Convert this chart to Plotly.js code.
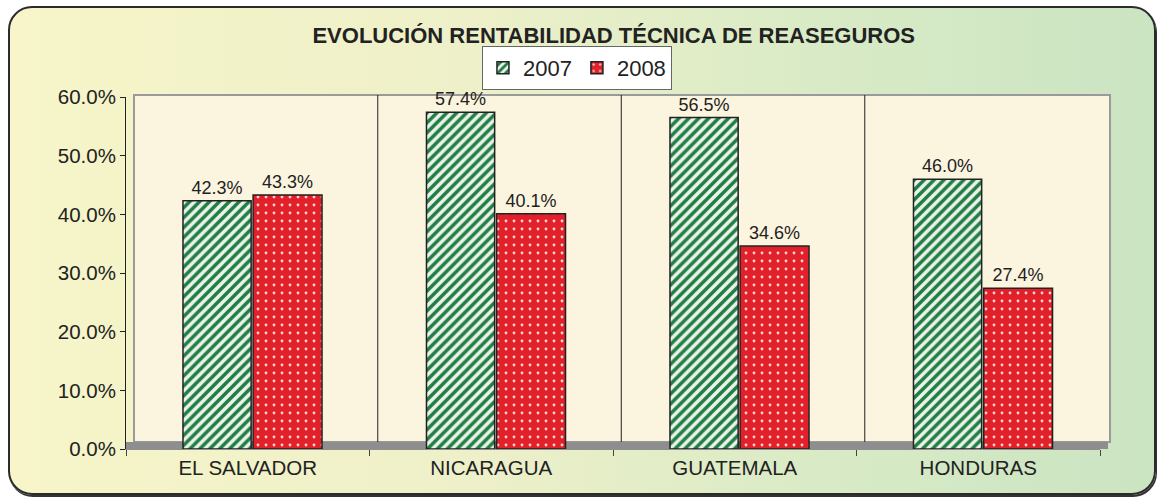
<!DOCTYPE html>
<html>
<head>
<meta charset="utf-8">
<script src="https://cdn.plot.ly/plotly-3.0.1.min.js"></script>
<style>
  html, body { margin: 0; padding: 0; width: 1158px; height: 498px; overflow: hidden; background: #ffffff; }
  #frame {
    position: absolute; left: 8px; top: 6px; width: 1144px; height: 485px;
    border: 2px solid #2b2b2b; border-radius: 24px;
    box-shadow: 1px 2px 0 #333;
    background: linear-gradient(to right, #f7f5c9 0%, #eef0c9 40%, #d9ebc6 70%, #cbe4c2 100%);
  }
  #chart { position: absolute; left: 0; top: 0; width: 1158px; height: 498px; }
</style>
</head>
<body>
<div id="frame"></div>
<div id="chart"></div>
<script>
const categories = ["EL SALVADOR", "NICARAGUA", "GUATEMALA", "HONDURAS"];
const seriesNames = ["2007", "2008"];
const values2007 = [42.3, 57.4, 56.5, 46.0];
const values2008 = [43.3, 40.1, 34.6, 27.4];
const yTicks = [0, 10, 20, 30, 40, 50, 60];

const fontFamily = "Liberation Sans, Arial, sans-serif";

const fmt = v => v.toFixed(1) + "%";

const trace2007 = {
  type: "bar", name: seriesNames[0], x: categories, y: values2007,
  offset: -0.266, width: 0.28,
  text: values2007.map(fmt), textposition: "outside", cliponaxis: false,
  textfont: { family: fontFamily, size: 18, color: "#222" },
  marker: {
    color: "#eef2ee",
    line: { color: "#222", width: 1.5 },
    pattern: { shape: "/", fgcolor: "#1f7f40", bgcolor: "#eef2ee", size: 7, solidity: 0.5, fillmode: "replace" }
  },
  hoverinfo: "skip"
};
const trace2008 = {
  type: "bar", name: seriesNames[1], x: categories, y: values2008,
  offset: 0.022, width: 0.283,
  text: values2008.map(fmt), textposition: "outside", cliponaxis: false,
  textfont: { family: fontFamily, size: 18, color: "#222" },
  marker: {
    color: "#e2202a",
    line: { color: "#222", width: 1.5 },
    pattern: { shape: ".", fgcolor: "#f7d0d0", bgcolor: "#e2202a", size: 8, solidity: 0.1, fillmode: "replace" }
  },
  hoverinfo: "skip"
};

const plotW = 974, plotH = 352;
const wallDx = 8 / plotW, wallDy = 2 / plotH;
const shapes = [
  // back wall
  { type: "rect", xref: "paper", yref: "paper", x0: wallDx, x1: 1 + 10 / plotW, y0: 0.02, y1: 1 + wallDy,
    fillcolor: "#fbf4df", line: { color: "#9a9a9a", width: 2 }, layer: "below" },
  // floor band
  { type: "rect", xref: "paper", yref: "paper", x0: 0, x1: 1 + 8 / plotW, y0: 0, y1: 0.02,
    fillcolor: "#8e8e8e", line: { width: 0 }, layer: "below" }
];
for (let i = 0; i < categories.length - 1; i++) {
  shapes.push({ type: "line", xref: "x", yref: "paper", x0: i + 0.5 + 0.034, x1: i + 0.5 + 0.034, y0: 0.02, y1: 1 + wallDy,
    line: { color: "#222", width: 1 }, layer: "below" });
}

const layout = {
  width: 1158, height: 498,
  margin: { l: 126, r: 58, t: 97, b: 49 },
  paper_bgcolor: "rgba(0,0,0,0)",
  plot_bgcolor: "rgba(0,0,0,0)",
  barmode: "group", bargap: 0.42, bargroupgap: 0.02,
  font: { family: fontFamily, color: "#222" },
  title: {
    text: "<b>EVOLUCIÓN RENTABILIDAD TÉCNICA DE REASEGUROS</b>",
    font: { family: fontFamily, size: 22, color: "#222" },
    x: 0.53, xanchor: "center", y: 0.93, yanchor: "middle", xref: "container", yref: "container"
  },
  showlegend: true,
  legend: {
    orientation: "h", x: 0.463, xanchor: "center", y: 1.145, yanchor: "top",
    bgcolor: "#ffffff", bordercolor: "#666", borderwidth: 1,
    font: { family: fontFamily, size: 22, color: "#222" },
    itemwidth: 30, tracegroupgap: 0
  },
  xaxis: {
    type: "category", tickson: "boundaries", ticks: "outside", ticklen: 6, tickcolor: "#444",
    showline: true, linecolor: "#8e8e8e", linewidth: 1, showgrid: false,
    tickfont: { family: fontFamily, size: 20.5, color: "#222" },
    fixedrange: true
  },
  yaxis: {
    range: [0, 60], tickvals: yTicks, ticktext: yTicks.map(v => v.toFixed(1) + "%"),
    ticks: "outside", ticklen: 5, tickcolor: "#222",
    showline: true, linecolor: "#222", linewidth: 1, showgrid: false, zeroline: false,
    tickfont: { family: fontFamily, size: 20.5, color: "#222" },
    fixedrange: true
  },
  shapes: shapes
};

Plotly.newPlot("chart", [trace2007, trace2008], layout, { displayModeBar: false, staticPlot: true });
</script>
</body>
</html>
